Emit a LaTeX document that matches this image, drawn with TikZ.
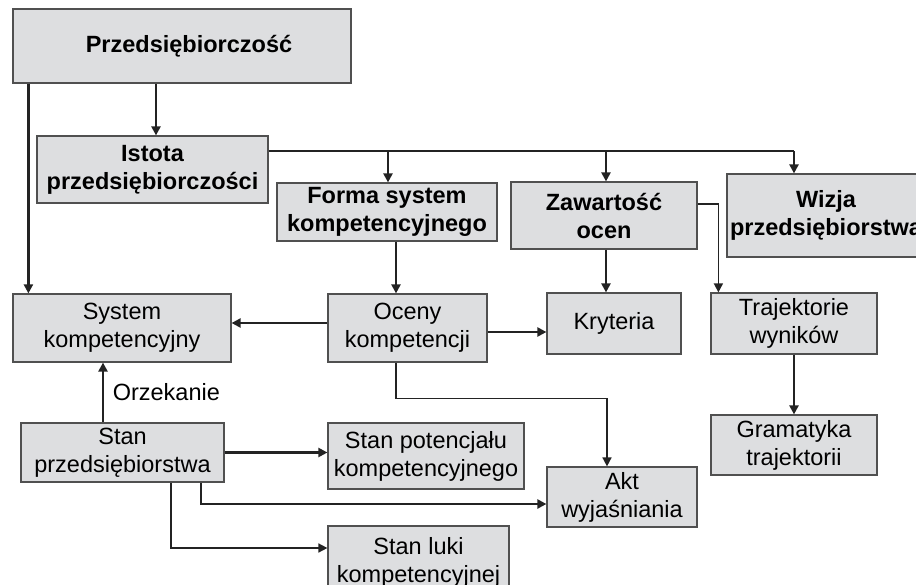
\documentclass[tikz,border=0pt]{standalone}
\usepackage{fontspec}
\setmainfont{Liberation Sans}
\usetikzlibrary{arrows.meta, positioning}
\definecolor{boxfill}{RGB}{221,222,224}
\definecolor{boxline}{RGB}{80,80,80}
\definecolor{arrline}{RGB}{35,35,35}
\tikzset{
    box/.style={draw=boxline, fill=boxfill, line width=0.6pt, align=center, inner sep=1pt,
        font=\fontsize{11.75pt}{14pt}\selectfont},
    boldbox/.style={box, font=\fontsize{11.75pt}{14pt}\selectfont\bfseries},
    arr/.style={draw=arrline, line width=1.1pt, -{Triangle[length=4.5pt,width=4.5pt]}},
    thinarr/.style={arr, line width=0.8pt},
    thinline/.style={draw=arrline, line width=0.8pt}
}
\begin{document}
\begin{tikzpicture}[x=0.5pt, y=-0.5pt]
        \useasboundingbox (0,0) rectangle (916,584);
        \clip (0,0) rectangle (916,584);
        % boxes
        \node[boldbox, minimum width=169pt, minimum height=37pt] (przed) at (182,46) {\hspace{7pt}Przedsiębiorczość};
        \node[boldbox, minimum width=115.5pt, minimum height=33.5pt] (istota) at (152.5,169.5) {Istota\\przedsiębiorczości};
        \node[boldbox, minimum width=110pt, minimum height=29pt] (forma) at (387,212) {Forma system\\kompetencyjnego};
        \node[boldbox, minimum width=93pt, minimum height=33.5pt] (zawart) at (604,215.5) {Zawartość\\ocen};
        \node[boldbox, minimum width=99pt, minimum height=41.5pt] (wizja) at (826,215.5) {Wizja\\przedsiębiorstwa};
        \node[box, minimum width=109pt, minimum height=34pt] (system) at (122,328) {System\\kompetencyjny};
        \node[box, minimum width=79.5pt, minimum height=34pt] (oceny) at (407.5,328) {Oceny\\kompetencji};
        \node[box, minimum width=67pt, minimum height=30.5pt] (kryteria) at (614,323.5) {Kryteria};
        \node[box, minimum width=83pt, minimum height=30.5pt] (traj) at (794,323.5) {Trajektorie\\wyników};
        \node[box, minimum width=83pt, minimum height=30pt] (gram) at (794,445) {Gramatyka\\trajektorii};
        \node[box, minimum width=101.5pt, minimum height=29.5pt] (stanp) at (122.5,452.5) {Stan\\przedsiębiorstwa};
        \node[box, minimum width=98pt, minimum height=33pt] (potenc) at (426,456) {Stan potencjału\\kompetencyjnego};
        \node[box, minimum width=75pt, minimum height=30pt] (akt) at (622,497) {Akt\\wyjaśniania};
        \node[box, minimum width=90.5pt, minimum height=34pt, text depth=-6pt] (luki) at (418.5,560) {Stan luki\\kompetencyjnej};

        % connectors
        \draw[arr] (przed.south -| istota.north) ++(1.75pt,0) coordinate (pi) -- (pi |- istota.north);
        \draw[arr] ([xshift=8pt]przed.south west) -- ([xshift=8pt]system.north west);
        \coordinate (hl) at ([yshift=9.25pt]istota.east);
        \coordinate (hlend) at ([xshift=-16pt]wizja.north |- hl);
        \draw[thinline] (hl) -- (hlend);
        \draw[arr] ([xshift=0.5pt]hl -| forma.north) -- ([xshift=0.5pt]forma.north);
        \draw[arr] ([xshift=1pt]hl -| zawart.north) -- ([xshift=1pt]zawart.north);
        \draw[arr] (hlend) -- ([xshift=-16pt]wizja.north);
        \draw[arr] ([xshift=4.5pt]forma.south) -- ([xshift=4.5pt]forma.south |- oceny.north);
        \draw[arr] ([xshift=1pt]zawart.south) -- ([xshift=1pt]zawart.south |- kryteria.north);
        \draw[thinarr] ([yshift=5.75pt]zawart.east) -| ([xshift=4pt]traj.north west);
        \draw[arr] ([yshift=2.5pt]oceny.west) -- ([yshift=2.5pt]oceny.west -| system.east);
        \draw[arr] ([yshift=-2pt]oceny.east) -- ([yshift=-2pt]oceny.east -| kryteria.west);
        \coordinate (aktin) at ([xshift=-7.5pt]akt.north);
        \draw[thinarr] ([xshift=-5.75pt]oceny.south) |- ([yshift=34pt]aktin) -- (aktin);
        \draw[arr] (traj.south) -- (gram.north);
        \draw[arr] ([xshift=-9.75pt]stanp.north) -- ([xshift=-9.75pt]stanp.north |- system.south)
            node[midway, right=1pt, font=\fontsize{11.75pt}{14pt}\selectfont] (orzek) {Orzekanie};
        \draw[arr] (stanp.east) -- (stanp.east -| potenc.west);
        \draw[arr] ([xshift=39.25pt]stanp.south) |- ([yshift=-3.5pt]akt.west);
        \draw[thinarr] ([xshift=24.25pt]stanp.south) |- ([yshift=6pt]luki.west);
    \end{tikzpicture}
\end{document}
